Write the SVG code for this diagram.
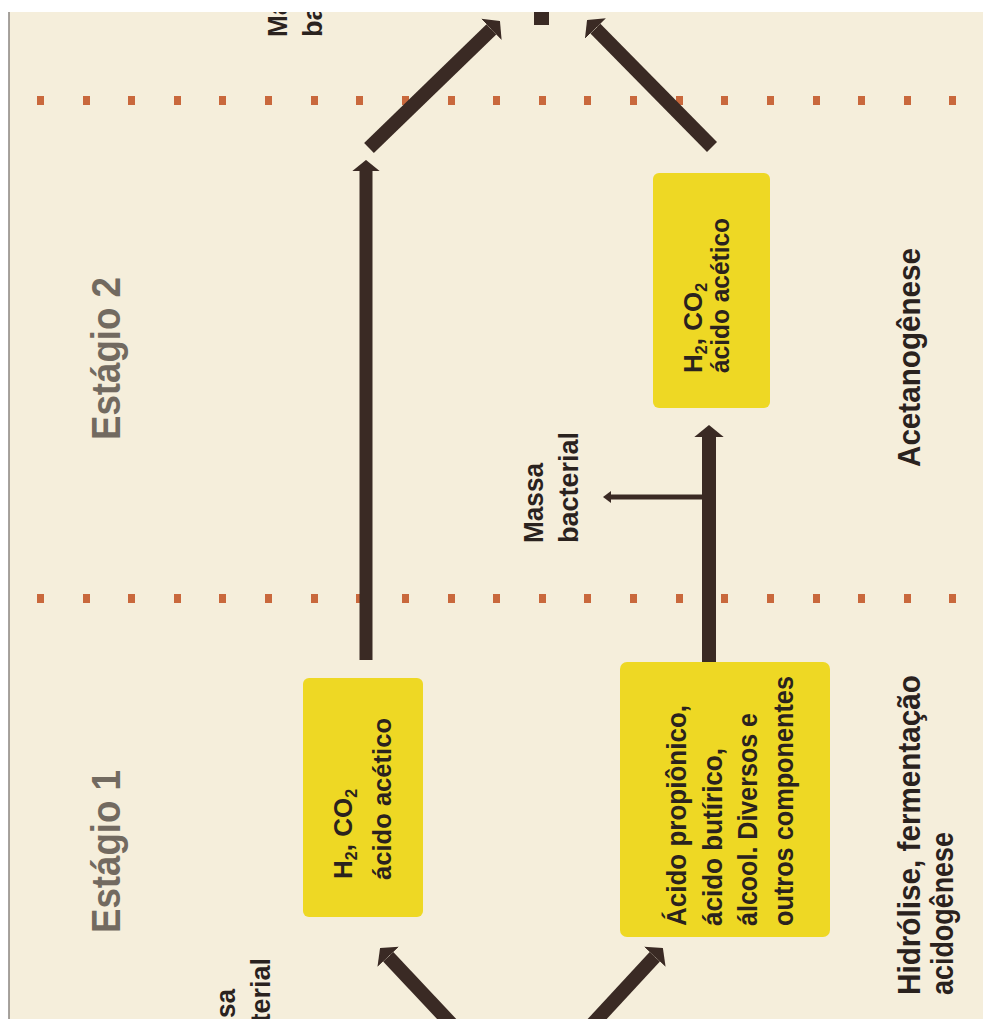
<svg xmlns="http://www.w3.org/2000/svg" width="983" height="1019" viewBox="0 0 983 1019">
<style>
.paper{fill:#f5eedb}
.box{fill:#eed824}
.t{font-family:"Liberation Sans",Arial,sans-serif;font-weight:bold;fill:#2a221e}
.bt{font-size:26px}
.bt3{font-size:28px}
.sub{font-size:16px}
.stage{font-family:"Liberation Sans",Arial,sans-serif;font-weight:bold;font-size:40px;fill:#726a60}
.lbl{font-size:31px}
.mb{font-size:28px}
.arr{stroke:#3a2a24;fill:none}
.dot{fill:#c9683c}
</style>
<defs>
<marker id="head" viewBox="0 0 10 10" refX="0" refY="5" markerUnits="strokeWidth" markerWidth="0.85" markerHeight="2.1" orient="auto" preserveAspectRatio="none">
<path d="M0,0 L10,5 L0,10 Z" fill="#3a2a24"/>
</marker>
<marker id="headS" viewBox="0 0 10 10" refX="0" refY="5" markerUnits="strokeWidth" markerWidth="1.6" markerHeight="2.4" orient="auto" preserveAspectRatio="none">
<path d="M0,0 L10,5 L0,10 Z" fill="#3a2a24"/>
</marker>
</defs>
<rect x="0" y="0" width="983" height="1019" fill="#ffffff"/>
<rect class="paper" x="9" y="12" width="974" height="1007"/>

<g id="dividers">
<g id="divider-top">
<rect class="dot" x="37" y="96" width="7" height="9"/><rect class="dot" x="83" y="96" width="7" height="9"/><rect class="dot" x="128" y="96" width="7" height="9"/><rect class="dot" x="174" y="96" width="7" height="9"/><rect class="dot" x="219" y="96" width="7" height="9"/><rect class="dot" x="265" y="96" width="7" height="9"/><rect class="dot" x="311" y="96" width="7" height="9"/><rect class="dot" x="356" y="96" width="7" height="9"/><rect class="dot" x="402" y="96" width="7" height="9"/><rect class="dot" x="448" y="96" width="7" height="9"/><rect class="dot" x="493" y="96" width="7" height="9"/><rect class="dot" x="539" y="96" width="7" height="9"/><rect class="dot" x="584" y="96" width="7" height="9"/><rect class="dot" x="630" y="96" width="7" height="9"/><rect class="dot" x="676" y="96" width="7" height="9"/><rect class="dot" x="721" y="96" width="7" height="9"/><rect class="dot" x="767" y="96" width="7" height="9"/><rect class="dot" x="813" y="96" width="7" height="9"/><rect class="dot" x="858" y="96" width="7" height="9"/><rect class="dot" x="904" y="96" width="7" height="9"/><rect class="dot" x="949" y="96" width="7" height="9"/>
</g>
<g id="divider-bottom">
<rect class="dot" x="37" y="594" width="7" height="9"/><rect class="dot" x="83" y="594" width="7" height="9"/><rect class="dot" x="128" y="594" width="7" height="9"/><rect class="dot" x="174" y="594" width="7" height="9"/><rect class="dot" x="219" y="594" width="7" height="9"/><rect class="dot" x="265" y="594" width="7" height="9"/><rect class="dot" x="311" y="594" width="7" height="9"/><rect class="dot" x="356" y="594" width="7" height="9"/><rect class="dot" x="402" y="594" width="7" height="9"/><rect class="dot" x="448" y="594" width="7" height="9"/><rect class="dot" x="493" y="594" width="7" height="9"/><rect class="dot" x="539" y="594" width="7" height="9"/><rect class="dot" x="584" y="594" width="7" height="9"/><rect class="dot" x="630" y="594" width="7" height="9"/><rect class="dot" x="676" y="594" width="7" height="9"/><rect class="dot" x="721" y="594" width="7" height="9"/><rect class="dot" x="767" y="594" width="7" height="9"/><rect class="dot" x="813" y="594" width="7" height="9"/><rect class="dot" x="858" y="594" width="7" height="9"/><rect class="dot" x="904" y="594" width="7" height="9"/><rect class="dot" x="949" y="594" width="7" height="9"/>
</g>
</g>

<g id="connectors">
<line class="arr" x1="366" y1="660" x2="366" y2="171" stroke-width="13" marker-end="url(#head)"/>
<line class="arr" x1="709" y1="662" x2="709" y2="437" stroke-width="14" marker-end="url(#head)"/>
<line class="arr" x1="709" y1="497" x2="611" y2="497" stroke-width="5" marker-end="url(#headS)"/>
<line class="arr" x1="369" y1="148" x2="491.4" y2="29.4" stroke-width="14" marker-end="url(#head)"/>
<line class="arr" x1="712" y1="147" x2="595.4" y2="28.6" stroke-width="14" marker-end="url(#head)"/>
<line class="arr" x1="457" y1="1030" x2="388.2" y2="956.7" stroke-width="14" marker-end="url(#head)"/>
<line class="arr" x1="587" y1="1030" x2="654.8" y2="956.8" stroke-width="14" marker-end="url(#head)"/>
<rect x="534" y="12" width="15" height="13" fill="#3a2a24"/>
</g>

<g id="stage2-title">
<text class="stage" transform="translate(120,440) rotate(-90)" textLength="163" lengthAdjust="spacingAndGlyphs">Estágio 2</text>
</g>
<g id="stage1-title">
<text class="stage" transform="translate(120,933) rotate(-90)" textLength="163" lengthAdjust="spacingAndGlyphs">Estágio 1</text>
</g>

<g id="box-h2-co2-stage1">
<rect class="box" x="303" y="678" width="120" height="239" rx="6"/>
<text class="t bt" transform="translate(352,879) rotate(-90)">H<tspan class="sub" dy="5">2</tspan><tspan dy="-5">, CO</tspan><tspan class="sub" dy="5">2</tspan></text>
<text class="t bt" transform="translate(391,880) rotate(-90)" textLength="162" lengthAdjust="spacingAndGlyphs">ácido acético</text>
</g>

<g id="box-h2-co2-stage2">
<rect class="box" x="653" y="173" width="117" height="235" rx="6"/>
<text class="t bt" transform="translate(702,373) rotate(-90)">H<tspan class="sub" dy="5">2</tspan><tspan dy="-5">, CO</tspan><tspan class="sub" dy="5">2</tspan></text>
<text class="t bt" transform="translate(729,373) rotate(-90)" textLength="155" lengthAdjust="spacingAndGlyphs">ácido acético</text>
</g>

<g id="box-acids">
<rect class="box" x="620" y="662" width="210" height="275" rx="7"/>
<text class="t bt3" transform="translate(686,926) rotate(-90)" textLength="221" lengthAdjust="spacingAndGlyphs">Ácido propiônico,</text>
<text class="t bt3" transform="translate(722,926) rotate(-90)" textLength="178" lengthAdjust="spacingAndGlyphs">ácido butírico,</text>
<text class="t bt3" transform="translate(757,926) rotate(-90)" textLength="213" lengthAdjust="spacingAndGlyphs">álcool. Diversos e</text>
<text class="t bt3" transform="translate(793,926) rotate(-90)" textLength="250" lengthAdjust="spacingAndGlyphs">outros componentes</text>
</g>

<g id="massa-bacterial-mid">
<text class="t mb" transform="translate(543,543) rotate(-90)" textLength="80" lengthAdjust="spacingAndGlyphs">Massa</text>
<text class="t mb" transform="translate(578,543) rotate(-90)" textLength="111" lengthAdjust="spacingAndGlyphs">bacterial</text>
</g>
<g id="massa-bacterial-top">
<text class="t mb" transform="translate(287,37) rotate(-90)" textLength="80" lengthAdjust="spacingAndGlyphs">Massa</text>
<text class="t mb" transform="translate(322,37) rotate(-90)" textLength="111" lengthAdjust="spacingAndGlyphs">bacterial</text>
</g>
<g id="massa-bacterial-bottom">
<text class="t mb" transform="translate(235,1069) rotate(-90)" textLength="80" lengthAdjust="spacingAndGlyphs">Massa</text>
<text class="t mb" transform="translate(270,1069) rotate(-90)" textLength="111" lengthAdjust="spacingAndGlyphs">bacterial</text>
</g>

<g id="label-acetanogenese">
<text class="t lbl" transform="translate(920,467) rotate(-90)" textLength="219" lengthAdjust="spacingAndGlyphs">Acetanogênese</text>
</g>
<g id="label-hidrolise">
<text class="t lbl" transform="translate(920,995) rotate(-90)" textLength="320" lengthAdjust="spacingAndGlyphs">Hidrólise, fermentação</text>
<text class="t lbl" transform="translate(953,995) rotate(-90)" textLength="163" lengthAdjust="spacingAndGlyphs">acidogênese</text>
</g>

<rect x="0" y="0" width="983" height="12" fill="#ffffff"/>
<rect x="0" y="0" width="9" height="1019" fill="#ffffff"/>
<line x1="9" y1="12" x2="9" y2="1019" stroke="#8a8580" stroke-width="1.5"/>
</svg>
